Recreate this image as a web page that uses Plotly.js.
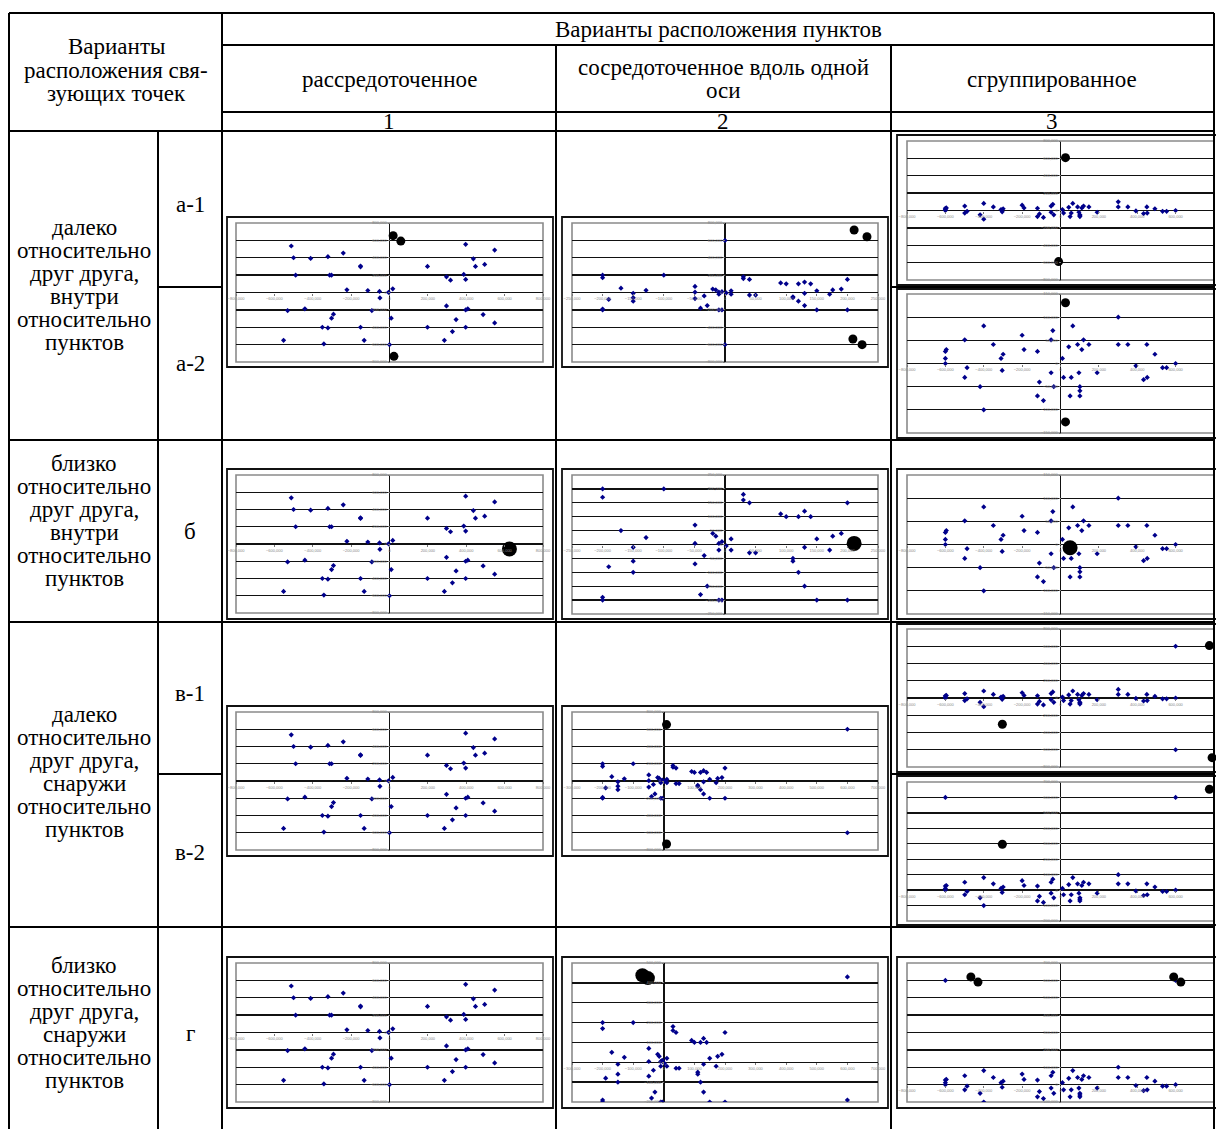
<!DOCTYPE html>
<html><head><meta charset="utf-8">
<script src="https://cdn.plot.ly/plotly-3.0.1.min.js"></script>
<style>body{margin:0;background:#fff}</style>
</head><body><div id="chart" style="width:1216px;height:1129px"></div>
<script>
// ---- DATA ----
// scattered layout of points (column 1)
const col1X = [-512000,-500000,-411000,-321000,-241000,-151000,-151000,-489000,-312000,-302000,-222000,-113000,-52000,17000,-50000,-531000,-441000,-292000,-302000,-350000,-321000,-151000,-92000,9000,-552000,-342000,-132000,0,397000,548000,437000,448000,496000,198000,387000,297000,318000,397000,297000,397000,408000,488000,347000,548000,198000,397000,328000,286000,-5000];
const col1Y = [535000,400000,392000,412000,454000,304000,296000,200000,200000,200000,31000,23000,12000,42000,-62000,-208000,-188000,-250000,-296000,-400000,-408000,-400000,-208000,-296000,-550000,-592000,-550000,-600000,554000,488000,388000,300000,323000,300000,208000,181000,142000,150000,-154000,-200000,-188000,-254000,-312000,-350000,-400000,-400000,-450000,-550000,2000];
// concentrated along one axis (column 2)
const col2X = [-200000,-200000,-200000,-200000,-190000,-170000,-150000,-150000,-150000,-129000,-100000,-49000,-49000,-49000,-40000,-34000,-29000,-20000,-15000,-10000,-10000,-5000,-10000,-5000,10000,10000,30000,30000,40000,40000,50000,91000,100000,111000,111000,120000,120000,130000,130000,130000,140000,150000,150000,171000,176000,190000,200000,200000,2000];
const col2Y = [200000,170000,-190000,-200000,-80000,50000,-10000,-60000,-100000,25000,200000,70000,4000,-70000,-180000,-40000,-150000,40000,30000,-20000,4000,10000,-200000,-200000,20000,-20000,180000,160000,150000,-30000,-30000,110000,100000,-50000,-60000,100000,-100000,120000,-10000,-150000,100000,20000,-200000,-20000,30000,40000,150000,-200000,-5000];
// grouped (column 3)
const col3X = [-600000,-595000,-600000,-600000,-499000,-487000,-499000,-400000,-419000,-400000,-350000,-299000,-310000,-304000,-200000,-190000,-120000,-110000,-120000,-89000,-40000,-49000,-49000,-35000,10000,16000,43000,64000,56000,50000,89000,96000,101000,101000,101000,111000,120000,148000,191000,301000,301000,351000,393000,433000,450000,452000,492000,532000,553000,600000];
const col3Y = [26000,30000,11000,0,51000,-9000,-30000,81000,-50000,-100000,41000,20000,11000,-15000,61000,30000,26000,-40000,-70000,-80000,71000,51000,-20000,-50000,11000,-30000,36000,81000,-30000,-70000,41000,-20000,-50000,-59000,-70000,30000,51000,41000,-20000,100000,41000,41000,-5000,-35000,41000,-30000,20000,-9000,-9000,0];
// extra survey points shown in some variants
const extra2aX = [0,0],            extra2aY = [600000,-600000];
const extra2vX = [600000,600000],  extra2vY = [600000,-600000];
const extra2gX = [600000,600000],  extra2gY = [430000,-190000];
const extra3v1X = [600000,600000], extra3v1Y = [600000,-600000];
const extra3v2X = [-600000,600000],extra3v2Y = [600000,600000];
const extra3gX = [-600000,600000], extra3gY = [600000,600000];
// connecting points (big black circles)
const circ1aX = [19000,59000,23000,82000],   circ1aY = [654000,592000,-735000,-831000];
const circ1bX = [625000],                    circ1bY = [-58000];
const circ2aX = [211000,232000,209000,224000], circ2aY = [719000,642000,-535000,-600000];
const circ2bX = [211000],                    circ2bY = [4000];
const circ2vX = [9000,9000],                 circ2vY = [654000,-731000];
const circ2gX = [-70000,-52000],             circ2gY = [438000,424000];
const circ3a1X = [26000,-10000],             circ3a1Y = [608000,-588000];
const circ3a2X = [26000,26000],              circ3a2Y = [131000,-126000];
const circ3bX = [50000],                     circ3bY = [-7000];
const circ3v1X = [776000,-303000,790000],    circ3v1Y = [608000,-304000,-692000];
const circ3v2X = [-809000,776000,-303000],   circ3v2Y = [653000,653000,297000];
const circ3gX = [-467000,-430000,590000,627000], circ3gY = [620000,590000,620000,590000];

// ---- TEXT ----
const headTop = 'Варианты расположения пунктов';
const headCols = [['рассредоточенное'], ['сосредоточенное вдоль одной','оси'], ['сгруппированное']];
const headNums = ['1','2','3'];
const headLeft = ['Варианты','расположения свя-','зующих точек'];
const rowTexts = [
  ['далеко','относительно','друг друга,','внутри','относительно','пунктов'],
  ['близко','относительно','друг друга,','внутри','относительно','пунктов'],
  ['далеко','относительно','друг друга,','снаружи','относительно','пунктов'],
  ['близко','относительно','друг друга,','снаружи','относительно','пунктов']
];
const subLabels = ['а-1','а-2','б','в-1','в-2','г'];

// ---- LAYOUT HELPERS ----
const W = 1216, H = 1129;
const fx = x => x / W, fy = y => 1 - y / H;
const FONT = 'Liberation Serif, Times New Roman, serif';

const charts = [
  {frame:[227,217,553,367], plot:[236,223,543,362], xr:[-800000,800000], xd:200000, yr:[-800000,800000], yd:200000, X:col1X, Y:col1Y, cx:circ1aX, cy:circ1aY, cs:9},
  {frame:[227,469,553,619], plot:[236,475,543,613], xr:[-800000,800000], xd:200000, yr:[-800000,800000], yd:200000, X:col1X, Y:col1Y, cx:circ1bX, cy:circ1bY, cs:15},
  {frame:[227,706,553,856], plot:[236,712,543,850], xr:[-800000,800000], xd:200000, yr:[-800000,800000], yd:200000, X:col1X, Y:col1Y},
  {frame:[227,957,553,1108], plot:[236,963,543,1102], xr:[-800000,800000], xd:200000, yr:[-800000,800000], yd:200000, X:col1X, Y:col1Y},
  {frame:[562,217,888,367], plot:[572,223,878,362], xr:[-250000,250000], xd:50000, yr:[-800000,800000], yd:200000, X:col2X, Y:col2Y, ex:extra2aX, ey:extra2aY, cx:circ2aX, cy:circ2aY, cs:9},
  {frame:[562,469,888,619], plot:[572,475,878,614], xr:[-250000,250000], xd:50000, yr:[-250000,250000], yd:50000, X:col2X, Y:col2Y, cx:circ2bX, cy:circ2bY, cs:15},
  {frame:[562,706,888,856], plot:[572,712,878,850], xr:[-300000,700000], xd:100000, yr:[-800000,800000], yd:200000, X:col2X, Y:col2Y, ex:extra2vX, ey:extra2vY, cx:circ2vX, cy:circ2vY, cs:9},
  {frame:[562,957,888,1108], plot:[572,963,878,1102], xr:[-300000,700000], xd:100000, yr:[-200000,500000], yd:100000, X:col2X, Y:col2Y, ex:extra2gX, ey:extra2gY, cx:circ2gX, cy:circ2gY, cs:14},
  {frame:[897,135,1222,285], plot:[907,141,1214,280], xr:[-800000,800000], xd:200000, yr:[-800000,800000], yd:200000, X:col3X, Y:col3Y, cx:circ3a1X, cy:circ3a1Y, cs:9},
  {frame:[897,289,1222,438], plot:[907,294,1214,433], xr:[-800000,800000], xd:200000, yr:[-150000,150000], yd:50000, X:col3X, Y:col3Y, cx:circ3a2X, cy:circ3a2Y, cs:9},
  {frame:[897,469,1222,619], plot:[907,475,1214,614], xr:[-800000,800000], xd:200000, yr:[-150000,150000], yd:50000, X:col3X, Y:col3Y, cx:circ3bX, cy:circ3bY, cs:15},
  {frame:[897,624,1222,772], plot:[907,629,1214,767], xr:[-800000,800000], xd:200000, yr:[-800000,800000], yd:200000, X:col3X, Y:col3Y, ex:extra3v1X, ey:extra3v1Y, cx:circ3v1X, cy:circ3v1Y, cs:9},
  {frame:[897,776,1222,925], plot:[907,782,1214,921], xr:[-800000,800000], xd:200000, yr:[-200000,700000], yd:100000, X:col3X, Y:col3Y, ex:extra3v2X, ey:extra3v2Y, cx:circ3v2X, cy:circ3v2Y, cs:9},
  {frame:[897,957,1222,1108], plot:[907,963,1214,1102], xr:[-800000,800000], xd:200000, yr:[-100000,700000], yd:100000, X:col3X, Y:col3Y, ex:extra3gX, ey:extra3gY, cx:circ3gX, cy:circ3gY, cs:9}
];

const traces = [], shapes = [], annotations = [];
const layout = {
  width: W, height: H, margin:{l:0,r:0,t:0,b:0},
  paper_bgcolor:'#fff', plot_bgcolor:'rgba(0,0,0,0)', showlegend:false,
  font:{family:FONT, color:'#000'}
};

charts.forEach((c, i) => {
  const n = i + 1, sfx = n === 1 ? '' : String(n);
  const p = c.plot;
  const zeroYpix = p[3] - (0 - c.yr[0]) / (c.yr[1] - c.yr[0]) * (p[3] - p[1]);
  const zeroXpix = p[0] + (0 - c.xr[0]) / (c.xr[1] - c.xr[0]) * (p[2] - p[0]);
  layout['xaxis' + sfx] = {
    domain:[fx(p[0]), fx(p[2])], range:c.xr, dtick:c.xd, tick0:0, anchor:'free', position:fy(zeroYpix),
    showgrid:false, zeroline:true, zerolinecolor:'#111', zerolinewidth:1.6, showline:false,
    ticks:'outside', ticklen:2, tickcolor:'#777', tickfont:{size:4, color:'#888', family:'Arial'},
    tickformat:',d', fixedrange:true, automargin:false
  };
  layout['yaxis' + sfx] = {
    domain:[fy(p[3]), fy(p[1])], range:c.yr, dtick:c.yd, tick0:0, anchor:'free', position:fx(zeroXpix),
    showgrid:true, gridcolor:'#111', gridwidth:1.3, zeroline:true, zerolinecolor:'#111', zerolinewidth:1.3, showline:false,
    ticks:'outside', ticklen:2, tickcolor:'#777', tickfont:{size:4, color:'#888', family:'Arial'},
    tickformat:',d', fixedrange:true, automargin:false
  };
  const xa = 'x' + sfx, ya = 'y' + sfx;
  traces.push({type:'scatter', mode:'markers', x:c.X, y:c.Y, xaxis:xa, yaxis:ya,
    marker:{symbol:'diamond', size:4, color:'#00008b'}, hoverinfo:'skip'});
  if (c.ex) traces.push({type:'scatter', mode:'markers', x:c.ex, y:c.ey, xaxis:xa, yaxis:ya,
    marker:{symbol:'diamond', size:4, color:'#00008b'}, hoverinfo:'skip'});
  if (c.cx) traces.push({type:'scatter', mode:'markers', x:c.cx, y:c.cy, xaxis:xa, yaxis:ya, cliponaxis:false,
    marker:{symbol:'circle', size:c.cs, color:'#000'}, hoverinfo:'skip'});
  const f = c.frame;
  shapes.push({type:'rect', xref:'paper', yref:'paper', x0:fx(f[0]), x1:fx(f[2]), y0:fy(f[3]), y1:fy(f[1]),
    line:{color:'#111', width:1.8}, fillcolor:'rgba(0,0,0,0)', layer:'below'});
  shapes.push({type:'rect', xref:'paper', yref:'paper', x0:fx(p[0]), x1:fx(p[2]), y0:fy(p[3]), y1:fy(p[1]),
    line:{color:'#8a8a8a', width:1.6}, fillcolor:'rgba(0,0,0,0)', layer:'below'});
});

// ---- TABLE GRID ----
function hl(y, x0, x1){ shapes.push({type:'line', xref:'paper', yref:'paper', x0:fx(x0), x1:fx(x1), y0:fy(y), y1:fy(y), line:{color:'#000', width:2}, layer:'above'}); }
function vl(x, y0, y1){ shapes.push({type:'line', xref:'paper', yref:'paper', x0:fx(x), x1:fx(x), y0:fy(y0), y1:fy(y1), line:{color:'#000', width:2}, layer:'above'}); }
hl(13, 9, 1214); hl(45, 222, 1214); hl(112, 222, 1214); hl(131, 9, 1214);
hl(287, 158, 222); hl(287, 891, 1214);
hl(440, 9, 1214); hl(622, 9, 1214);
hl(774, 158, 222); hl(774, 891, 1214);
hl(927, 9, 1214);
vl(9, 13, 1129); vl(158, 131, 1129); vl(222, 13, 1129); vl(556, 45, 1129); vl(891, 45, 1129); vl(1214, 13, 1129);

// ---- TEXT ----
function ann(text, x, y){
  annotations.push({text:text, x:fx(x), y:fy(y), xref:'paper', yref:'paper', showarrow:false,
    xanchor:'center', yanchor:'middle', font:{family:FONT, size:23, color:'#000'}});
}
ann(headTop, 718, 30);
const colCenters = [389, 723, 1052];
headCols.forEach((lines, i) => {
  const y0 = 79 - (lines.length - 1) * 23 / 2;
  lines.forEach((t, j) => ann(t, colCenters[i], y0 + j * 23));
});
headNums.forEach((t, i) => ann(t, colCenters[i], 121));
headLeft.forEach((t, j) => ann(t, 116, 47 + j * 23));
const rowCenters = [285, 521, 772, 1023];
rowTexts.forEach((lines, i) => {
  const y0 = rowCenters[i] - (lines.length - 1) * 23 / 2;
  lines.forEach((t, j) => ann(t, 84, y0 + j * 23));
});
const subY = [204, 363, 531, 693, 852, 1033];
subLabels.forEach((t, i) => ann(t, 190, subY[i]));

layout.shapes = shapes;
layout.annotations = annotations;
Plotly.newPlot('chart', traces, layout, {displayModeBar:false, staticPlot:true});
</script></body></html>
